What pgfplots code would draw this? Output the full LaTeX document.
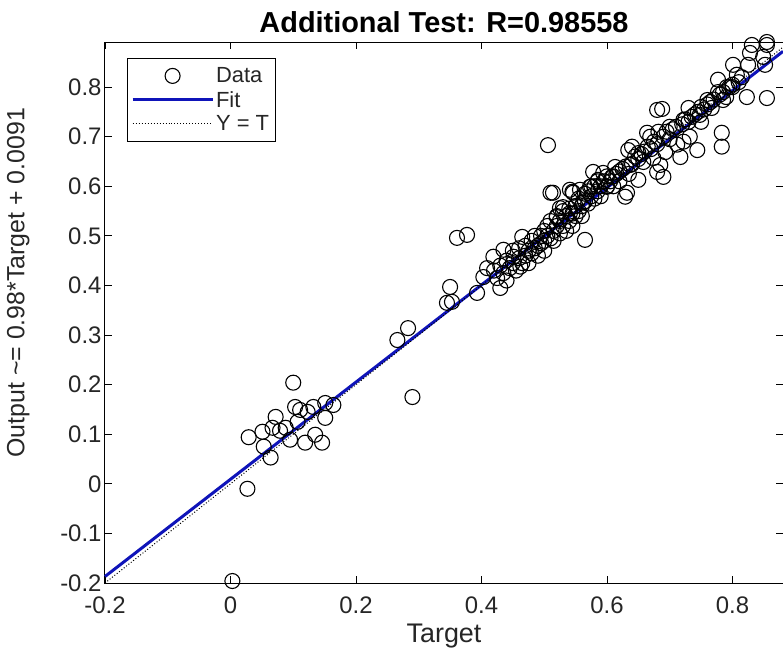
\documentclass[border=0pt]{standalone}
\usepackage{pgfplots}
\pgfplotsset{compat=1.18}
\usepackage{fontspec}
\setmainfont{Liberation Sans}
\definecolor{fitblue}{RGB}{15,20,185}
\definecolor{txt}{RGB}{38,38,38}
\pgfplotsset{
  mylegmark/.style={legend image code/.code={\draw[mark repeat=2,mark phase=2,##1] plot coordinates {(0bp,0bp) (40bp,0bp) (80bp,0bp)};}},
  myleglin/.style={legend image code/.code={\draw[##1] (0bp,0bp) -- (80bp,0bp);}},
}
\pgfplotstableread{
x y
0.003 -0.196
0.027 -0.010
0.029 0.094
0.051 0.105
0.072 0.135
0.067 0.113
0.053 0.075
0.064 0.053
0.079 0.107
0.088 0.113
0.095 0.089
0.107 0.125
0.103 0.155
0.111 0.149
0.123 0.145
0.119 0.083
0.132 0.155
0.135 0.099
0.146 0.083
0.151 0.133
0.151 0.163
0.164 0.159
0.100 0.204
0.290 0.175
0.266 0.290
0.283 0.314
0.345 0.365
0.353 0.367
0.350 0.397
0.361 0.496
0.377 0.502
0.393 0.385
0.403 0.417
0.409 0.435
0.419 0.458
0.430 0.395
0.435 0.472
0.451 0.458
0.462 0.438
0.465 0.498
0.565 0.492
0.506 0.683
0.420 0.430
0.425 0.415
0.430 0.440
0.435 0.425
0.440 0.450
0.440 0.410
0.445 0.435
0.450 0.445
0.450 0.470
0.455 0.430
0.460 0.455
0.460 0.475
0.465 0.445
0.470 0.460
0.470 0.480
0.475 0.470
0.475 0.445
0.480 0.490
0.480 0.465
0.485 0.475
0.485 0.500
0.490 0.480
0.490 0.460
0.495 0.500
0.495 0.485
0.500 0.490
0.500 0.510
0.500 0.470
0.505 0.500
0.505 0.520
0.510 0.495
0.510 0.530
0.515 0.510
0.515 0.490
0.520 0.520
0.520 0.540
0.525 0.505
0.525 0.530
0.530 0.520
0.530 0.550
0.535 0.540
0.535 0.510
0.540 0.530
0.540 0.555
0.545 0.545
0.545 0.520
0.550 0.560
0.550 0.540
0.555 0.550
0.555 0.575
0.560 0.560
0.560 0.540
0.565 0.570
0.565 0.585
0.570 0.565
0.570 0.590
0.575 0.580
0.575 0.600
0.580 0.575
0.580 0.600
0.585 0.590
0.585 0.610
0.590 0.600
0.590 0.580
0.595 0.610
0.600 0.600
0.600 0.620
0.605 0.610
0.610 0.620
0.610 0.600
0.615 0.625
0.620 0.630
0.620 0.610
0.625 0.635
0.630 0.640
0.635 0.625
0.640 0.645
0.645 0.660
0.650 0.655
0.510 0.587
0.545 0.589
0.578 0.629
0.557 0.593
0.525 0.556
0.520 0.538
0.541 0.593
0.629 0.579
0.514 0.587
0.546 0.587
0.573 0.599
0.562 0.567
0.600 0.599
0.608 0.619
0.530 0.558
0.541 0.546
0.594 0.627
0.586 0.613
0.613 0.639
0.632 0.587
0.650 0.613
0.637 0.643
0.640 0.680
0.650 0.667
0.634 0.673
0.658 0.649
0.664 0.708
0.680 0.754
0.674 0.657
0.685 0.643
0.680 0.629
0.690 0.619
0.693 0.669
0.717 0.659
0.712 0.684
0.722 0.690
0.732 0.700
0.744 0.673
0.669 0.700
0.682 0.710
0.700 0.720
0.722 0.734
0.750 0.730
0.748 0.744
0.688 0.756
0.730 0.758
0.767 0.758
0.760 0.774
0.785 0.774
0.777 0.790
0.783 0.708
0.783 0.680
0.823 0.780
0.855 0.778
0.791 0.800
0.800 0.800
0.777 0.815
0.807 0.825
0.801 0.845
0.825 0.845
0.852 0.845
0.849 0.861
0.828 0.869
0.831 0.885
0.855 0.885
0.855 0.891
0.655 0.665
0.660 0.670
0.665 0.680
0.670 0.675
0.675 0.690
0.680 0.685
0.690 0.700
0.695 0.710
0.700 0.695
0.705 0.715
0.710 0.720
0.720 0.725
0.725 0.735
0.730 0.730
0.735 0.740
0.740 0.745
0.745 0.750
0.750 0.760
0.755 0.755
0.760 0.765
0.765 0.770
0.770 0.775
0.780 0.785
0.785 0.790
0.790 0.780
0.795 0.800
0.800 0.805
0.810 0.810
0.815 0.820
}\datatable
\begin{document}
\begin{tikzpicture}
\begin{axis}[
  at={(0,0)}, anchor=south west,
  scale only axis, width=678bp, height=541bp,
  xmin=-0.2, xmax=0.8806, ymin=-0.2, ymax=0.891,
  clip=false,
  xtick={-0.2,0,0.2,0.4,0.6,0.8},
  xticklabels={-0.2,0,0.2,0.4,0.6,0.8},
  ytick={-0.2,-0.1,0,0.1,0.2,0.3,0.4,0.5,0.6,0.7,0.8},
  yticklabels={-0.2,-0.1,0,0.1,0.2,0.3,0.4,0.5,0.6,0.7,0.8},
  tick align=inside,
  major tick length=7bp,
  tick style={line width=0.8bp, black},
  axis line style={line width=1bp, black},
  tick label style={font=\fontsize{24}{24}\selectfont, text=txt},
  xticklabel style={yshift=-10bp},
  title={Additional Test: R=0.98558},
  title style={font=\bfseries\fontsize{29}{29}\selectfont, text=black},
  xlabel={Target},
  ylabel={Output \textasciitilde= 0.98*Target + 0.0091},
  xlabel style={font=\fontsize{27}{27}\selectfont, text=txt},
  xlabel shift=4bp,
  ylabel style={font=\fontsize{25}{25}\selectfont, text=txt,
    at={(axis description cs:-0.106,0.555)}, anchor=south, rotate=0},
  legend style={at={(0.032,0.97)}, anchor=north west, draw=black,
    line width=0.8bp, font=\fontsize{22}{24}\selectfont, text=txt,
    cells={anchor=west}, inner xsep=4bp, inner ysep=7bp, row sep=3bp},
]
\addplot[only marks, mark=o, mark size=7.5bp, mark options={line width=1.1bp, black}, mylegmark]
  table[x=x,y=y] {\datatable};
\addlegendentry{Data}
\addplot[fitblue, line width=3bp, myleglin]
  coordinates {(-0.2,-0.1869) (0.8806,0.8721)};
\addlegendentry{Fit}
\addplot[black, dotted, line width=1bp, myleglin]
  coordinates {(-0.2,-0.2) (0.8806,0.8806)};
\addlegendentry{Y = T}
\end{axis}
\pgfresetboundingbox
\path[use as bounding box] (-105bp,-66bp) rectangle (678bp,583bp);
\end{tikzpicture}
\end{document}
